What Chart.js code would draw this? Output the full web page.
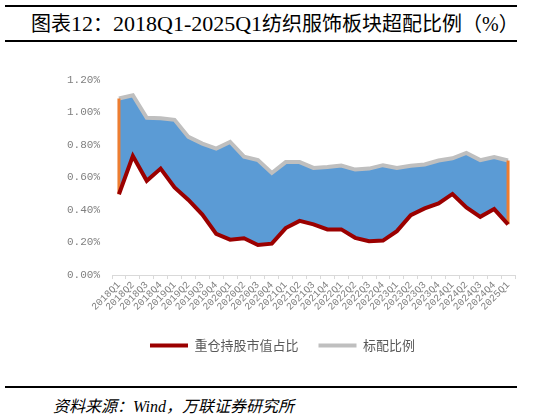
<!DOCTYPE html>
<html><head><meta charset="utf-8">
<script src="https://cdn.jsdelivr.net/npm/chart.js@4.4.1/dist/chart.umd.min.js"></script>
<style>
html,body{margin:0;padding:0;background:#fff;width:557px;height:418px;overflow:hidden;position:relative}
.rule{position:absolute;left:5px;width:512px;height:2px;background:#000}
#title{position:absolute;left:31px;top:10px;font-family:"Liberation Serif","Noto Sans CJK SC",serif;font-size:20px;line-height:28px;color:#000;white-space:nowrap}
#title .l{font-family:"Liberation Serif",serif;font-size:22px}
#src{position:absolute;left:53px;top:397px;font-family:"Liberation Serif","Noto Sans CJK SC",serif;font-style:italic;font-size:16px;line-height:20px;color:#000;white-space:nowrap}
#wrap{position:absolute;left:0;top:55px;width:557px;height:307px}
</style></head><body>
<div class="rule" style="top:5px"></div>
<div id="title">图表<span class="l">12</span>：<span class="l">2018Q1-2025Q1</span>纺织服饰板块超配比例（%）</div>
<div class="rule" style="top:40px"></div>
<div id="wrap"><canvas id="c"></canvas></div>
<div class="rule" style="top:386px"></div>
<div id="src">资料来源：Wind，万联证券研究所</div>
<script>
const categories = ["2018Q1","2018Q2","2018Q3","2018Q4","2019Q1","2019Q2","2019Q3","2019Q4","2020Q1","2020Q2","2020Q3","2020Q4","2021Q1","2021Q2","2021Q3","2021Q4","2022Q1","2022Q2","2022Q3","2022Q4","2023Q1","2023Q2","2023Q3","2023Q4","2024Q1","2024Q2","2024Q3","2024Q4","2025Q1"];
const heavyHolding = [0.497,0.732,0.580,0.655,0.539,0.462,0.372,0.253,0.218,0.226,0.185,0.193,0.289,0.333,0.312,0.281,0.281,0.229,0.208,0.212,0.270,0.368,0.410,0.441,0.499,0.416,0.358,0.406,0.312];
const standardWeight = [1.086,1.106,0.967,0.965,0.955,0.850,0.809,0.778,0.819,0.728,0.707,0.628,0.695,0.695,0.659,0.665,0.674,0.649,0.655,0.676,0.659,0.672,0.680,0.705,0.718,0.751,0.707,0.726,0.705];
const yTicks = [0,0.2,0.4,0.6,0.8,1.0,1.2];

const RED = "#9B0000", GRAY = "#BFBFBF", BLUE = "#5B9BD5", ORANGE = "#ED7D31";
const last = categories.length - 1;

new Chart(document.getElementById("c"), {
  type: "line",
  data: {
    labels: categories,
    datasets: [
      {label:"重仓持股市值占比", data: heavyHolding, borderColor: RED, backgroundColor: RED, borderWidth: 4, pointRadius: 0, fill: false, order: 0, tension: 0},
      {label:"标配比例", data: standardWeight, borderColor: GRAY, backgroundColor: BLUE, borderWidth: 4, pointRadius: 0, fill: {target: 0}, order: 2, tension: 0},
      {label:"edgeStart", data: [{x: categories[0], y: heavyHolding[0]}, {x: categories[0], y: standardWeight[0]}], borderColor: ORANGE, borderWidth: 3, pointRadius: 0, fill: false, order: 1},
      {label:"edgeEnd", data: [{x: categories[last], y: heavyHolding[last]}, {x: categories[last], y: standardWeight[last]}], borderColor: ORANGE, borderWidth: 3, pointRadius: 0, fill: false, order: 1}
    ]
  },
  options: {
    responsive: true,
    maintainAspectRatio: false,
    animation: false,
    layout: {padding: {left: 50, right: 42, top: 25, bottom: 0}},
    plugins: {
      tooltip: {enabled: false},
      legend: {
        position: "bottom",
        labels: {
          font: {family: "'Noto Sans CJK SC'", size: 13},
          color: "#595959",
          boxWidth: 38,
          boxHeight: 4,
          padding: 20,
          generateLabels: (chart) => chart.data.datasets.slice(0, 2).map((ds, i) => ({
            text: ds.label, fillStyle: ds.borderColor, strokeStyle: ds.borderColor, lineWidth: 0, datasetIndex: i, fontColor: "#595959"
          }))
        }
      }
    },
    scales: {
      x: {
        type: "category",
        offset: true,
        border: {display: true, color: "#D9D9D9", width: 1},
        grid: {display: true, drawOnChartArea: false, drawTicks: true, tickLength: 4, color: "#D9D9D9", offset: true},
        ticks: {autoSkip: false, maxRotation: 45, minRotation: 45, padding: 0, color: "#808080", font: {family: "'Liberation Mono'", size: 10}},
        afterFit: (axis) => { axis.height += 6; axis.paddingLeft = 0; axis.paddingRight = 0; }
      },
      y: {
        min: 0, max: 1.2,
        border: {display: false},
        grid: {display: false, drawTicks: false},
        afterBuildTicks: (axis) => { axis.ticks = yTicks.map(v => ({value: v})); },
        afterFit: (axis) => { axis.width = 62; },
        ticks: {padding: 12, color: "#808080", font: {family: "'Liberation Mono'", size: 11}, callback: (v) => v.toFixed(2) + "%"}
      }
    }
  }
});
</script>
</body></html>
